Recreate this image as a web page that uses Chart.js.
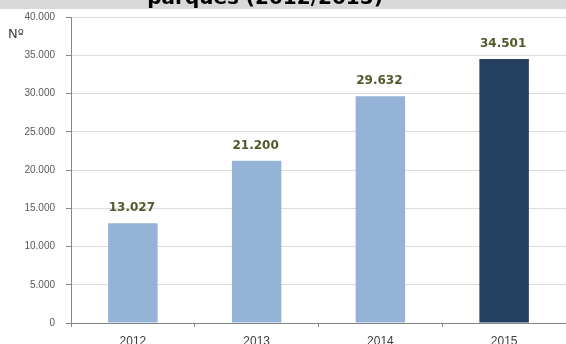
<!DOCTYPE html>
<html lang="pt">
<head>
    <meta charset="UTF-8">
    <title>Parques (2012/2015)</title>
    <script src="https://cdn.jsdelivr.net/npm/chart.js"></script>
    <style>
        body { margin: 0; background: #ffffff; }
        canvas { display: block; }
    </style>
</head>
<body>
    <canvas id="grafico" width="566" height="344"></canvas>
    <script>
        // Dados do gráfico
        const anos = ["2012", "2013", "2014", "2015"];
        const parques = [13027, 21200, 29632, 34501];
        const coresBarras = ["#95B3D7", "#95B3D7", "#95B3D7", "#243F60"];
        const tituloTexto = "parques (2012/2015)";
        const tituloEixo = "Nº";

        // Formata números com ponto como separador de milhar
        function formatar(v) {
            return String(v).replace(/\B(?=(\d{3})+(?!\d))/g, ".");
        }

        // Faixa cinzenta do título, título, "Nº" e valores por cima das barras
        const extras = {
            id: "extras",
            beforeDraw(chart) {
                const ctx = chart.ctx;
                ctx.save();
                ctx.fillStyle = "#ffffff";
                ctx.fillRect(0, 0, chart.width, chart.height);
                ctx.fillStyle = "#d9d9d9";
                ctx.fillRect(0, 0, chart.width, 9);
                ctx.fillStyle = "#000000";
                ctx.font = "bold 20px 'DejaVu Sans'";
                ctx.textAlign = "center";
                ctx.textBaseline = "alphabetic";
                ctx.fillText(tituloTexto, 265, 4);
                ctx.fillStyle = "#404040";
                ctx.font = "13px 'DejaVu Sans'";
                ctx.textAlign = "left";
                ctx.textBaseline = "middle";
                ctx.fillText(tituloEixo, 8, 35);
                ctx.restore();
            },
            afterDatasetsDraw(chart) {
                const ctx = chart.ctx;
                const meta = chart.getDatasetMeta(0);
                ctx.save();
                ctx.fillStyle = "#4F5A2A";
                ctx.font = "bold 12px 'DejaVu Sans'";
                ctx.textAlign = "center";
                ctx.textBaseline = "alphabetic";
                meta.data.forEach((barra, i) => {
                    ctx.fillText(formatar(parques[i]), barra.x - 1, barra.y - 12);
                });
                ctx.restore();
            }
        };

        new Chart(document.getElementById("grafico"), {
            type: "bar",
            data: {
                labels: anos,
                datasets: [{
                    data: parques,
                    backgroundColor: coresBarras,
                    borderWidth: 0,
                    categoryPercentage: 1,
                    barPercentage: 0.4
                }]
            },
            options: {
                responsive: false,
                animation: false,
                layout: { padding: { top: 17, right: 0, bottom: 0, left: 0 } },
                plugins: {
                    legend: { display: false },
                    tooltip: { enabled: false }
                },
                scales: {
                    x: {
                        offset: true,
                        grid: {
                            offset: true,
                            drawOnChartArea: false,
                            tickLength: 4,
                            tickColor: "#868686"
                        },
                        border: { color: "#868686" },
                        ticks: {
                            color: "#404040",
                            font: { family: "'Liberation Sans'", size: 12 },
                            padding: 7,
                            maxRotation: 0
                        },
                        afterFit(scale) { scale.height = 21; }
                    },
                    y: {
                        min: 0,
                        max: 40000,
                        grid: {
                            color: "#dcdcdc",
                            tickLength: 5,
                            tickColor: "#868686"
                        },
                        border: { color: "#868686" },
                        ticks: {
                            stepSize: 5000,
                            color: "#595959",
                            font: { family: "'Liberation Sans'", size: 10 },
                            padding: 11,
                            callback: v => formatar(v)
                        },
                        afterFit(scale) { scale.width = 71; }
                    }
                }
            },
            plugins: [extras]
        });
    </script>
</body>
</html>
